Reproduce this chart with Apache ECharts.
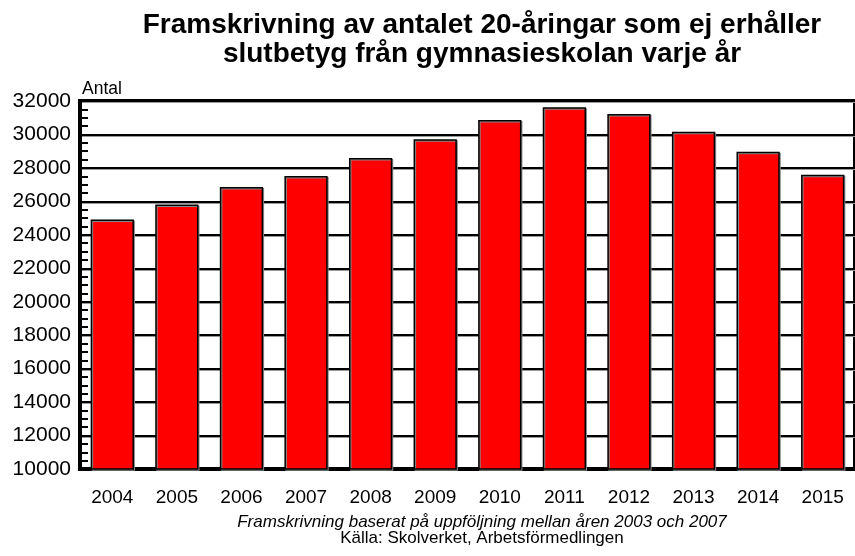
<!DOCTYPE html>
<html><head><meta charset="utf-8">
<script src="https://cdn.jsdelivr.net/npm/echarts@6/dist/echarts.min.js"></script>
<style>html,body{margin:0;padding:0;background:#fff}#c{width:855px;height:556px}</style>
</head><body><div id="c"></div>
<script>
var categories = ['2004','2005','2006','2007','2008','2009','2010','2011','2012','2013','2014','2015'];
var values = [24920, 25810, 26860, 27520, 28590, 29710, 30865, 31620, 31220, 30165, 28970, 27595];
var titleLines = ['Framskrivning av antalet 20-åringar som ej erhåller', 'slutbetyg från gymnasieskolan varje år'];
var footnote = 'Framskrivning baserat på uppföljning mellan åren 2003 och 2007';
var source = 'Källa: Skolverket, Arbetsförmedlingen';
var yAxisName = 'Antal';

var F = 'Liberation Sans, Arial, sans-serif';
var chart = echarts.init(document.getElementById('c'));
chart.setOption({
  animation: false,
  backgroundColor: '#fff',
  title: [
    {text: titleLines.join('\n'), left: 482, top: 11, textAlign: 'center', padding: 0,
     textStyle: {fontFamily: F, fontSize: 28, fontWeight: 'bold', color: '#000', lineHeight: 29}},
    {text: footnote, left: 482, top: 514, textAlign: 'center', padding: 0,
     textStyle: {fontFamily: F, fontSize: 17, fontStyle: 'italic', fontWeight: 'normal', color: '#000', lineHeight: 17}},
    {text: source, left: 482, top: 530, textAlign: 'center', padding: 0,
     textStyle: {fontFamily: F, fontSize: 17, fontWeight: 'normal', color: '#000', lineHeight: 17}}
  ],
  grid: {left: 80, top: 101, width: 781, height: 368, show: true, borderColor: '#000', borderWidth: 4, backgroundColor: 'transparent'},
  xAxis: {
    type: 'category', data: categories,
    axisLine: {lineStyle: {color: '#000', width: 4}},
    axisTick: {show: false},
    axisLabel: {fontFamily: F, fontSize: 19, color: '#000', margin: 19}
  },
  yAxis: {
    type: 'value', min: 10000, max: 32000, interval: 2000,
    name: yAxisName, nameLocation: 'end', nameGap: 3,
    nameTextStyle: {fontFamily: F, fontSize: 17.5, color: '#000', align: 'left', padding: [0,0,0,2]},
    axisLine: {show: true, lineStyle: {color: '#000', width: 4}},
    axisTick: {show: true, inside: true, length: 11, lineStyle: {color: '#000', width: 2}},
    minorTick: {show: true, splitNumber: 4, length: 8, lineStyle: {color: '#000', width: 2}},
    axisLabel: {fontFamily: F, fontSize: 21, color: '#000', margin: 9, formatter: function (v) { return String(v); }},
    splitLine: {show: true, lineStyle: {color: '#000', width: 2, shadowColor: '#999', shadowOffsetY: 1, shadowBlur: 0}}
  },
  series: [{
    type: 'bar', data: values, barCategoryGap: '33%',
    itemStyle: {color: '#ff0000', borderColor: '#000', borderWidth: 1.5,
      shadowColor: '#888', shadowOffsetX: 1, shadowOffsetY: 1, shadowBlur: 0}
  }]
});
</script></body></html>
